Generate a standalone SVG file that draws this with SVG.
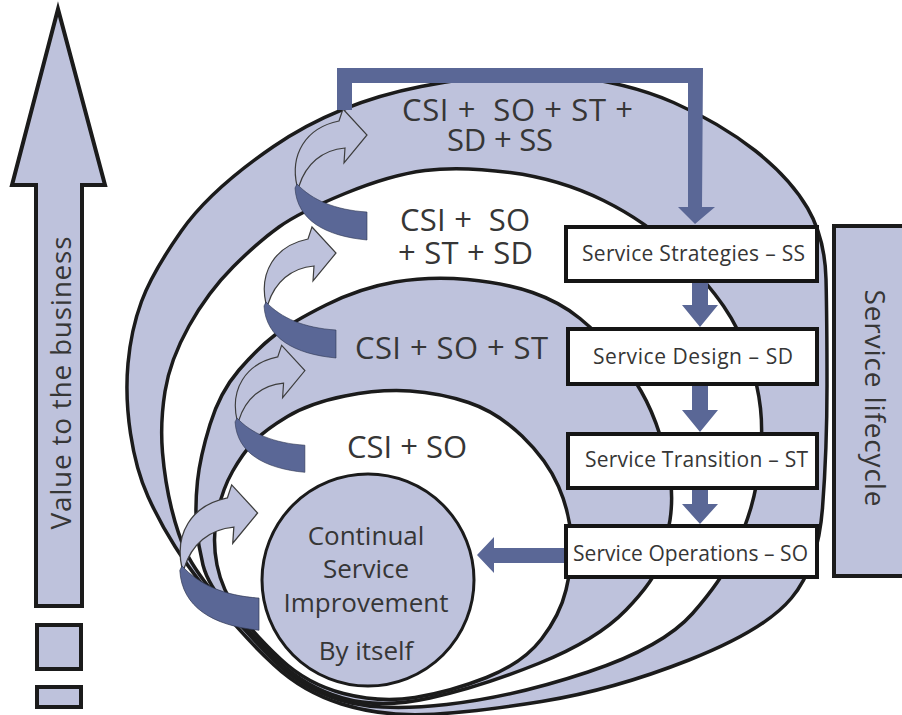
<svg xmlns="http://www.w3.org/2000/svg" width="902" height="715" viewBox="0 0 902 715">
  <style>
    .ring { stroke: #1b1b1b; stroke-width: 3.5; }
    .lav { fill: #bec2dc; }
    .wht { fill: #ffffff; }
    .blue { fill: #5a6796; }
    .box { fill: #ffffff; stroke: #151515; stroke-width: 4; }
    .frame { fill: #bec2dc; stroke: #1b1b1b; stroke-width: 4; }
    text { font-family: "Open Sans", "Noto Sans", "DejaVu Sans", sans-serif; fill: #363636; }
    .ring-label { font-size: 31px; white-space: pre; }
    .csi-label { font-size: 26px; text-anchor: middle; }
    .box-label { font-size: 21px; }
    .side-label { font-size: 28px; text-anchor: middle; }
    .curl-arrow { fill: #bec2dc; stroke: #3d3d3d; stroke-width: 1.2; }
    .curl-band { fill: #5a6796; stroke: #2e3550; stroke-width: 0.6; }
  </style>
  <defs>
    <!-- one step of the improvement spiral: light upward arrow plus dark under-band -->
    <path id="curl-arrow" class="curl-arrow" d="M 0 1 C -7 -30, 8 -57, 42 -64 L 46 -76 L 70 -50 L 47 -22 L 48 -37 C 25 -35, 9 -21, 2 1 Z"/>
    <path id="curl-band" class="curl-band" d="M 0 -1 C 15 15, 38 25, 70 27 L 70 55 C 28 51, 0 35, -2 3 Z"/>
  </defs>

  <!-- value axis -->
  <g id="value-axis">
    <path class="frame" d="M 58 9 L 105 185 L 82 185 L 82 606 L 36 606 L 36 185 L 12 185 Z"/>
    <rect class="frame" x="37" y="625" width="44" height="44"/>
    <rect class="frame" x="37" y="687" width="44" height="20"/>
    <text class="side-label" transform="translate(71 383) rotate(-90)" textLength="293">Value to the business</text>
  </g>

  <!-- nested lifecycle rings -->
  <g id="ring-ss">
    <path class="lav ring" d="M 421 86.5 Q 505 70 566 76 Q 627 82 673.5 102.5 Q 720 123 755 150.5 Q 790 178 807.5 208 Q 825 238 826 279 Q 827 320 827 385 Q 827 450 822.5 508 Q 818 566 791.5 598 Q 765 630 689 660 Q 613 690 541.5 701.5 Q 470 713 425 714.5 Q 380 716 341.5 704 Q 303 692 274 665 Q 245 638 217.5 604 Q 190 570 175 546.5 Q 160 523 148 496.5 Q 136 470 130.5 433.5 Q 125 397 128 363.5 Q 131 330 141.5 301.5 Q 152 273 181 231.5 Q 210 190 273.5 146.5 Q 337 103 421 86.5 Z"/>
  </g>
  <g id="ring-sd">
    <path class="wht ring" d="M 425 170.5 Q 460 166 510 172.5 Q 560 179 603.5 200.5 Q 647 222 677 252 Q 707 282 723.5 306 Q 740 330 749 357.5 Q 758 385 760.5 408.5 Q 763 432 760 459.5 Q 757 487 751 507.5 Q 745 528 733.5 554 Q 722 580 692.5 613.5 Q 663 647 588 672 Q 513 697 446.5 704.5 Q 380 712 341.5 700.5 Q 303 689 275.5 662 Q 248 635 221.5 603 Q 195 571 186.5 553 Q 178 535 171.5 508.5 Q 165 482 162.5 452.5 Q 160 423 165 391.5 Q 170 360 189 326 Q 208 292 233 267 Q 258 242 279 227 Q 300 212 345 193.5 Q 390 175 425 170.5 Z"/>
  </g>
  <g id="ring-st">
    <path class="lav ring" d="M 395 282 Q 430 276 467.5 279.5 Q 505 283 532.5 292.5 Q 560 302 580 318.5 Q 600 335 615 353.5 Q 630 372 641 391 Q 652 410 660 435 Q 668 460 670.5 480 Q 673 500 670 520 Q 667 540 661 560 Q 655 580 626 610 Q 597 640 538.5 663.5 Q 480 687 430 698 Q 380 709 342.5 698 Q 305 687 278 660.5 Q 251 634 229.5 609.5 Q 208 585 203 565 Q 198 545 196.5 525 Q 195 505 197.5 481 Q 200 457 210 424.5 Q 220 392 239 370 Q 258 348 275 335 Q 292 322 326 305 Q 360 288 395 282 Z"/>
  </g>
  <g id="ring-so">
    <path class="wht ring" d="M 345 396 Q 380 389 410 391 Q 440 393 468.5 402.5 Q 497 412 522 436 Q 547 460 558.5 486.5 Q 570 513 571 539 Q 572 565 566 590 Q 560 615 541.5 639 Q 523 663 486.5 677.5 Q 450 692 415 697.5 Q 380 703 343.5 693.5 Q 307 684 280.5 659 Q 254 634 238 612 Q 222 590 217 565 Q 212 540 217 515 Q 222 490 232.5 471.5 Q 243 453 254 441.5 Q 265 430 287.5 416.5 Q 310 403 345 396 Z"/>
  </g>
  <g id="csi">
    <circle class="lav ring" cx="368" cy="580" r="106" style="stroke-width:3"/>
  </g>

  <!-- connectors -->
  <g id="connectors">
    <use href="#curl-arrow" transform="translate(297 185)"/>
    <use href="#curl-band" transform="translate(297 185)"/>
    <use href="#curl-arrow" transform="translate(266 303)"/>
    <use href="#curl-band" transform="translate(266 303)"/>
    <use href="#curl-arrow" transform="translate(237 419) scale(0.97)"/>
    <use href="#curl-band" transform="translate(237 419) scale(0.97)"/>
    <use href="#curl-arrow" transform="translate(182 567) scale(1.08)"/>
    <use href="#curl-band" transform="translate(182 567) scale(1.1 1.15)"/>

    <path class="blue" d="M 337 110 L 337 68 L 703 68 L 702 207 L 715 207 L 695 224 L 678 207 L 688 207 L 688 83 L 352 83 L 352 110 Z"/>
    <path class="blue" d="M 692 281 L 708 281 L 708 305 L 718 305 L 700 327 L 682 305 L 692 305 Z"/>
    <path class="blue" d="M 692 384 L 708 384 L 708 410 L 718 410 L 700 432 L 682 410 L 692 410 Z"/>
    <path class="blue" d="M 692 488 L 708 488 L 708 504 L 718 504 L 700 524 L 682 504 L 692 504 Z"/>
    <path class="blue" d="M 567 548 L 494 548 L 494 537 L 477 555 L 494 573 L 494 563 L 567 563 Z"/>
  </g>

  <!-- lifecycle stages -->
  <g id="stage-ss">
    <rect class="box" x="566" y="227" width="251" height="54"/>
    <text class="box-label" x="582" y="261" textLength="223">Service Strategies – SS</text>
  </g>
  <g id="stage-sd">
    <rect class="box" x="568" y="329" width="249" height="55"/>
    <text class="box-label" x="593" y="364" textLength="200">Service Design – SD</text>
  </g>
  <g id="stage-st">
    <rect class="box" x="568" y="434" width="249" height="54"/>
    <text class="box-label" x="585" y="467" textLength="223">Service Transition – ST</text>
  </g>
  <g id="stage-so">
    <rect class="box" x="566" y="526" width="251" height="51"/>
    <text class="box-label" x="573" y="561" textLength="235">Service Operations – SO</text>
  </g>
  <g id="lifecycle">
    <rect class="frame" x="834" y="226" width="80" height="350"/>
    <text class="side-label" transform="translate(865 398) rotate(90)" textLength="217">Service lifecycle</text>
  </g>

  <!-- ring labels (two-line labels keep the tight leading of the layout) -->
  <g id="ring-labels">
    <text class="ring-label"><tspan x="402" y="121" textLength="231">CSI +  SO + ST +</tspan><tspan x="447" y="151" textLength="106">SD + SS</tspan></text>
    <text class="ring-label"><tspan x="400" y="231" textLength="130">CSI +  SO</tspan><tspan x="398" y="264" textLength="135">+ ST + SD</tspan></text>
    <text class="ring-label" x="355" y="359" textLength="193">CSI + SO + ST</text>
    <text class="ring-label" x="347" y="458" textLength="120">CSI + SO</text>
  </g>
  <g id="csi-labels">
    <text class="csi-label"><tspan x="366" y="545">Continual</tspan><tspan x="366" y="578">Service</tspan><tspan x="366" y="612">Improvement</tspan><tspan x="366" y="660">By itself</tspan></text>
  </g>
</svg>
